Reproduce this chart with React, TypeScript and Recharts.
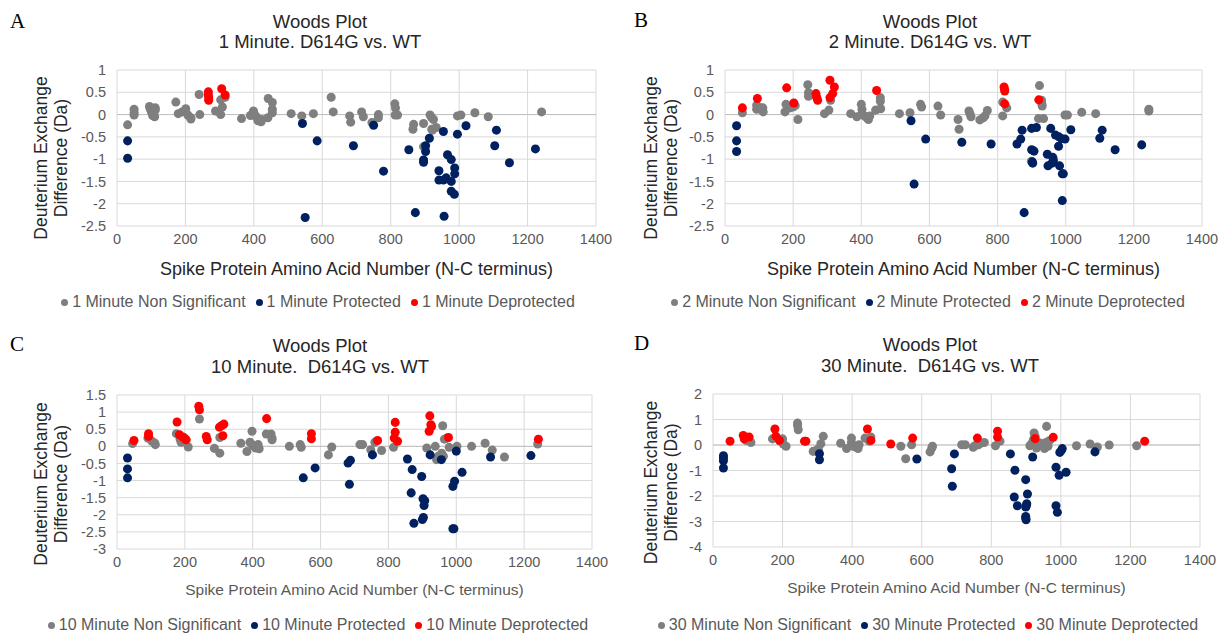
import {
  CartesianGrid,
  Label,
  Legend,
  ReferenceLine,
  Scatter,
  ScatterChart,
  XAxis,
  YAxis,
  ZAxis,
} from 'recharts';

// [amino acid number, deuterium difference (Da)]

const min1NonSig = [
  [31, -0.23], [50, 0.12], [50, 0.04], [50, -0.01], [95, 0.18], [97, 0.13], [100, 0.07],
  [104, -0.02], [110, -0.05], [112, 0.1], [112, 0.15], [172, 0.28], [179, 0.02], [190, 0.06],
  [201, 0.13], [207, -0.01], [216, -0.07], [216, -0.1], [240, 0.45], [242, 0.0], [288, 0.08],
  [303, 0.0], [308, 0.17], [303, 0.33], [316, 0.39], [364, -0.09], [390, -0.02], [399, 0.08],
  [401, 0.02], [407, -0.05], [412, -0.14], [421, -0.16], [423, -0.11], [441, -0.07], [442, 0.36],
  [454, 0.27], [454, 0.12], [454, 0.04], [509, 0.02], [540, -0.03], [574, 0.02], [626, 0.39],
  [632, 0.06], [680, -0.03], [683, -0.17], [715, 0.06], [720, -0.05], [745, -0.18], [764, 0.0],
  [764, -0.07], [812, 0.24], [814, 0.15], [813, -0.01], [820, -0.01], [867, -0.22], [865, -0.33],
  [896, -0.2], [896, -0.72], [915, -0.01], [920, -0.07], [925, -0.11], [920, -0.33], [933, -0.29],
  [922, -0.35], [995, -0.03], [1005, -0.01], [1046, 0.04], [1085, -0.05], [1241, 0.06],
];
const min1Prot = [
  [31, -0.59], [31, -0.98], [542, -0.2], [550, -2.31], [585, -0.59], [691, -0.7], [750, -0.24],
  [779, -1.27], [853, -0.79], [872, -2.2], [896, -1.02], [896, -1.07], [902, -0.83], [902, -0.7],
  [913, -0.53], [941, -1.26], [941, -1.47], [954, -1.47], [962, -1.42], [977, -1.5], [954, -0.38],
  [956, -2.28], [966, -0.9], [977, -1.01], [987, -1.2], [987, -1.33], [977, -1.72], [986, -1.79],
  [995, -0.44], [1020, -0.25], [1104, -0.7], [1109, -0.35], [1147, -1.08], [1223, -0.77],
];
const min1Deprot = [
  [267, 0.51], [267, 0.44], [268, 0.38], [268, 0.32], [306, 0.58], [316, 0.44],
];

const min2NonSig = [
  [51, 0.04], [93, 0.21], [93, 0.12], [103, 0.15], [111, 0.15], [112, 0.06], [176, 0.06],
  [179, 0.23], [191, 0.15], [199, 0.17], [206, 0.2], [214, -0.11], [243, 0.67], [245, 0.49],
  [245, 0.41], [292, 0.02], [305, 0.1], [310, 0.32], [369, 0.02], [387, -0.05], [400, 0.23],
  [402, 0.12], [402, 0.02], [409, -0.03], [416, -0.07], [421, -0.11], [425, -0.03], [442, 0.1],
  [456, 0.38], [456, 0.3], [457, 0.13], [512, 0.02], [543, 0.04], [574, 0.23], [577, 0.17],
  [625, 0.19], [633, -0.01], [684, -0.11], [687, -0.33], [716, 0.08], [719, 0.02], [722, -0.05],
  [748, -0.12], [758, -0.07], [763, -0.03], [770, 0.09], [815, 0.28], [815, -0.03], [827, 0.15],
  [899, -1.05], [923, 0.65], [929, 0.32], [931, 0.19], [930, 0.24], [920, -0.09], [935, -0.09],
  [998, -0.01], [1005, -0.01], [1047, 0.05], [1088, 0.02], [1244, 0.12], [1244, 0.08],
];
const min2Prot = [
  [34, -0.25], [34, -0.59], [34, -0.83], [546, -0.14], [555, -1.56], [589, -0.55], [695, -0.62],
  [781, -0.66], [857, -0.66], [868, -0.55], [872, -0.35], [878, -2.2], [900, -0.31], [914, -0.29],
  [900, -0.79], [907, -0.82], [902, -1.06], [903, -1.09], [946, -0.89], [948, -1.15], [956, -0.31],
  [960, -1.09], [962, -0.96], [964, -1.03], [970, -0.46], [979, -0.71], [980, -0.5], [982, -1.15],
  [988, -0.54], [998, -0.55], [990, -1.33], [993, -1.33], [990, -1.93], [1015, -0.34],
  [1100, -0.53], [1107, -0.35], [1145, -0.79], [1223, -0.68],
];
const min2Deprot = [
  [51, 0.15], [95, 0.36], [181, 0.6], [202, 0.26], [267, 0.47], [269, 0.39], [272, 0.32],
  [308, 0.77], [321, 0.62], [316, 0.47], [308, 0.38], [445, 0.54], [819, 0.62], [821, 0.56],
  [821, 0.53], [821, 0.24], [921, 0.33],
];

const min10NonSig = [
  [46, 0.08], [91, 0.24], [103, 0.15], [111, 0.1], [113, 0.05], [175, 0.37], [186, 0.21],
  [189, 0.12], [197, 0.26], [210, -0.02], [243, 0.8], [287, -0.06], [303, -0.2], [303, 0.26],
  [365, 0.09], [383, -0.15], [398, 0.44], [392, 0.12], [398, 0.05], [404, 0.0], [409, -0.05],
  [416, 0.05], [419, -0.07], [440, 0.36], [454, 0.36], [457, 0.24], [457, 0.19], [508, 0.0],
  [540, 0.05], [543, -0.03], [623, -0.25], [633, -0.02], [716, 0.05], [724, 0.05], [748, -0.1],
  [760, 0.12], [780, -0.12], [815, -0.03], [913, -0.05], [938, 0.0], [960, 0.6], [942, -0.39],
  [947, -0.29], [957, -0.2], [962, -0.29], [965, 0.21], [972, 0.24], [979, -0.03], [1002, 0.0],
  [1045, 0.0], [1085, 0.09], [1106, -0.11], [1142, -0.31], [1240, 0.07],
];
const min10Prot = [
  [31, -0.34], [31, -0.66], [31, -0.92], [549, -0.92], [584, -0.63], [681, -0.49], [688, -0.41],
  [685, -1.11], [753, -0.25], [856, -0.37], [870, -0.68], [867, -1.36], [875, -2.25], [898, -0.88],
  [902, -1.53], [907, -1.59], [905, -1.73], [900, -2.14], [903, -2.08], [923, -0.25], [956, -0.39],
  [990, -1.17], [995, -1.02], [990, -2.41], [993, -2.41], [1000, -0.14], [1017, -0.76],
  [1101, -0.31], [1220, -0.27],
];
const min10Deprot = [
  [50, 0.17], [93, 0.37], [93, 0.29], [177, 0.71], [184, 0.34], [194, 0.27], [202, 0.21],
  [204, 0.19], [241, 1.17], [243, 1.07], [263, 0.29], [266, 0.19], [302, 0.56], [309, 0.61],
  [315, 0.65], [312, 0.31], [441, 0.81], [573, 0.37], [573, 0.22], [768, 0.17], [820, 0.7],
  [820, 0.41], [817, 0.24], [827, 0.15], [922, 0.89], [925, 0.63], [927, 0.58], [920, 0.44],
  [977, 0.26], [1242, 0.21],
];

const min30NonSig = [
  [95, 0.18], [109, 0.1], [171, 0.24], [193, 0.15], [200, 0.24], [202, 0.04], [210, -0.05],
  [243, 0.86], [243, 0.76], [245, 0.6], [288, -0.25], [300, -0.18], [303, -0.16], [310, 0.05],
  [317, 0.34], [367, 0.07], [384, -0.14], [398, 0.27], [398, 0.1], [403, -0.05], [412, -0.09],
  [417, -0.14], [420, 0.01], [437, 0.27], [454, 0.31], [449, 0.15], [540, -0.05], [554, -0.54],
  [571, 0.01], [624, -0.27], [629, -0.12], [631, -0.05], [715, 0.01], [725, 0.01], [748, -0.09],
  [753, -0.03], [763, 0.01], [770, 0.08], [780, 0.1], [812, -0.03], [825, 0.15], [911, -0.03],
  [916, 0.05], [921, 0.21], [923, 0.47], [926, 0.34], [930, -0.12], [940, 0.08], [947, -0.03],
  [953, -0.14], [957, 0.1], [959, 0.73], [963, -0.05], [968, 0.18], [1045, -0.03], [1084, 0.04],
  [1105, -0.08], [1139, 0.0], [1218, -0.03],
];
const min30Prot = [
  [30, -0.42], [30, -0.51], [30, -0.62], [30, -0.9], [306, -0.34], [306, -0.58], [586, -0.55],
  [686, -0.93], [688, -1.62], [694, -0.35], [855, -0.35], [868, -0.99], [866, -2.04], [875, -2.38],
  [899, -1.36], [904, -1.92], [902, -2.3], [899, -2.43], [901, -2.37], [899, -2.8], [899, -2.86],
  [900, -2.93], [919, -0.47], [986, -0.87], [995, -1.19], [986, -2.38], [990, -2.64], [997, -0.29],
  [1002, -0.2], [1004, -0.14], [1015, -1.07], [1098, -0.27],
];
const min30Deprot = [
  [49, 0.15], [87, 0.37], [90, 0.24], [104, 0.31], [178, 0.63], [181, 0.34], [191, 0.18],
  [263, 0.15], [267, 0.15], [444, 0.63], [454, 0.18], [511, 0.04], [574, 0.27], [760, 0.27],
  [818, 0.54], [818, 0.31], [926, 0.25], [978, 0.3], [1241, 0.15],
];

const xTicks = [0, 200, 400, 600, 800, 1000, 1200, 1400];
const yTicks1 = [-2.5, -2, -1.5, -1, -0.5, 0, 0.5, 1];
const yTicks10 = [-3, -2.5, -2, -1.5, -1, -0.5, 0, 0.5, 1, 1.5];
const yTicks30 = [-4, -3, -2, -1, 0, 1, 2];

const FONT = '"Liberation Sans", Arial, sans-serif';
const GRAY = '#7f7f7f';
const NAVY = '#002060';
const RED = '#ff0000';
const CHART_W = 620;

const toPts = (arr: number[][]) => arr.map(([x, y]) => ({ x, y }));

type PanelProps = {
  letter: string;
  minute: string;
  subtitle: string;
  xTitle: string;
  xTitleSize: number;
  xTitleColor: string;
  left: number;
  top: number;
  height: number;
  plotTop: number;
  right: number;
  bottom: number;
  yAxisW: number;
  xAxisH: number;
  yTitleDy: number;
  titleTop: number;
  titleLine: number;
  letterLeft: number;
  letterTop: number;
  legendTop: number;
  yTicks: number[];
  nonSig: number[][];
  prot: number[][];
  deprot: number[][];
};

const Panel = (p: PanelProps) => {
  const yDomain = [p.yTicks[0], p.yTicks[p.yTicks.length - 1]];
  return (
    <div style={{ position: 'absolute', left: p.left, top: p.top, width: CHART_W, height: p.height }}>
      <div
        style={{
          position: 'absolute',
          left: p.letterLeft,
          top: p.letterTop,
          fontFamily: '"Liberation Serif", "Times New Roman", serif',
          fontSize: 21,
          lineHeight: '22px',
          color: '#000',
        }}
      >
        {p.letter}
      </div>
      <div
        style={{
          position: 'absolute',
          left: 0,
          top: p.titleTop,
          width: 640,
          textAlign: 'center',
          fontFamily: FONT,
          fontSize: 18.5,
          lineHeight: `${p.titleLine}px`,
          color: '#262626',
          whiteSpace: 'pre',
        }}
      >
        <div>Woods Plot</div>
        <div>{p.subtitle}</div>
      </div>
      <ScatterChart
        width={CHART_W}
        height={p.height}
        margin={{ top: p.plotTop, right: p.right, bottom: p.bottom, left: 0 }}
        style={{ fontFamily: FONT }}
      >
        <CartesianGrid stroke="#d9d9d9" />
        <XAxis
          type="number"
          dataKey="x"
          domain={[0, 1400]}
          ticks={xTicks}
          interval={0}
          axisLine={false}
          tickLine={false}
          height={p.xAxisH}
          tick={{ fill: '#595959', fontSize: 14.5 }}
        >
          <Label
            value={p.xTitle}
            position="insideBottom"
            offset={2}
            style={{ fill: p.xTitleColor, fontSize: p.xTitleSize, whiteSpace: 'pre' }}
          />
        </XAxis>
        <YAxis
          type="number"
          dataKey="y"
          domain={yDomain}
          ticks={p.yTicks}
          interval={0}
          axisLine={false}
          tickLine={false}
          tickMargin={5}
          width={p.yAxisW}
          tick={{ fill: '#595959', fontSize: 14.5 }}
        >
          <Label
            value="Deuterium Exchange"
            angle={-90}
            position="insideLeft"
            offset={41}
            dy={p.yTitleDy}
            style={{ textAnchor: 'middle', fill: '#262626', fontSize: 17.5 }}
          />
          <Label
            value="Difference (Da)"
            angle={-90}
            position="insideLeft"
            offset={61}
            dy={p.yTitleDy}
            style={{ textAnchor: 'middle', fill: '#262626', fontSize: 17.5 }}
          />
        </YAxis>
        <ZAxis range={[30, 30]} />
        <ReferenceLine y={0} stroke="#bfbfbf" />
        <Legend
          verticalAlign="middle"
          align="center"
          layout="horizontal"
          iconType="circle"
          iconSize={7}
          itemSorter={null}
          wrapperStyle={{ top: p.legendTop, left: 13, width: 620, fontSize: 16, fontFamily: FONT }}
          formatter={(v: string) => <span style={{ color: '#595959' }}>{v}</span>}
        />
        <Scatter name={`${p.minute} Minute Non Significant`} data={toPts(p.nonSig)} fill={GRAY} isAnimationActive={false} />
        <Scatter name={`${p.minute} Minute Protected`} data={toPts(p.prot)} fill={NAVY} isAnimationActive={false} />
        <Scatter name={`${p.minute} Minute Deprotected`} data={toPts(p.deprot)} fill={RED} isAnimationActive={false} />
      </ScatterChart>
    </div>
  );
};

const xTitleTop = 'Spike Protein Amino Acid Number (N-C terminus)';
const xTitleBottom = 'Spike Protein Amino Acid Number  (N-C terminus)';

export default function App() {
  return (
    <div style={{ position: 'absolute', left: 0, top: 0, width: 1220, height: 635, background: '#fff', overflow: 'hidden' }}>
      <Panel
        letter="A" minute="1" subtitle="1 Minute. D614G vs. WT" xTitle={xTitleTop} xTitleSize={18} xTitleColor="#262626"
        left={0} top={0} height={317} plotTop={70} right={24} bottom={40} yAxisW={117} xAxisH={51} yTitleDy={10}
        titleTop={12} titleLine={20} letterLeft={10} letterTop={10} legendTop={293}
        yTicks={yTicks1} nonSig={min1NonSig} prot={min1Prot} deprot={min1Deprot}
      />
      <Panel
        letter="B" minute="2" subtitle="2 Minute. D614G vs. WT" xTitle={xTitleTop} xTitleSize={18} xTitleColor="#262626"
        left={610} top={0} height={317} plotTop={70} right={28} bottom={40} yAxisW={115} xAxisH={51} yTitleDy={10}
        titleTop={12} titleLine={20} letterLeft={24} letterTop={9} legendTop={293}
        yTicks={yTicks1} nonSig={min2NonSig} prot={min2Prot} deprot={min2Deprot}
      />
      <Panel
        letter="C" minute="10" subtitle="10 Minute.  D614G vs. WT" xTitle={xTitleBottom} xTitleSize={15.5} xTitleColor="#595959"
        left={0} top={320} height={315} plotTop={75} right={28} bottom={38} yAxisW={117} xAxisH={48} yTitleDy={12}
        titleTop={15} titleLine={21} letterLeft={10} letterTop={13} legendTop={296}
        yTicks={yTicks10} nonSig={min10NonSig} prot={min10Prot} deprot={min10Deprot}
      />
      <Panel
        letter="D" minute="30" subtitle="30 Minute.  D614G vs. WT" xTitle={xTitleBottom} xTitleSize={15.5} xTitleColor="#595959"
        left={610} top={320} height={315} plotTop={74} right={30} bottom={40} yAxisW={103} xAxisH={48} yTitleDy={12}
        titleTop={14} titleLine={21} letterLeft={24} letterTop={12} legendTop={296}
        yTicks={yTicks30} nonSig={min30NonSig} prot={min30Prot} deprot={min30Deprot}
      />
    </div>
  );
}
